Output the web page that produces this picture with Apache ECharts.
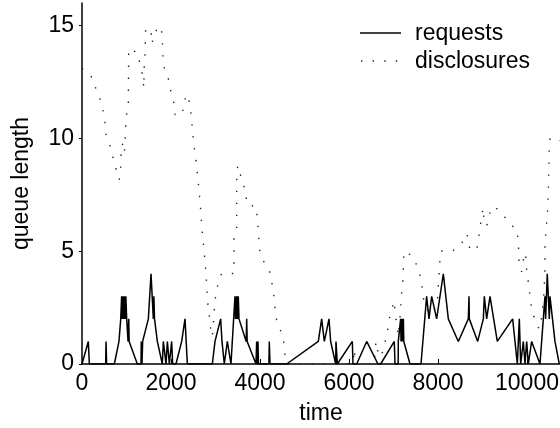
<!DOCTYPE html>
<html>
<head>
<meta charset="utf-8">
<script src="https://cdn.jsdelivr.net/npm/echarts@6/dist/echarts.min.js"></script>
<style>
html,body{margin:0;padding:0;background:#fff;}
#c{width:560px;height:428px;}
</style>
</head>
<body>
<div id="c"></div>
<script>
// ---- data ----
const reqTime = [0,142,165,532,540,554,727,831,870,891,905,915,935,950,970,985,1004,1035,1050,1060,1243,
  1326,1332,1348,1363,1491,1551,1603,1615,1630,1693,1805,1828,1888,1918,1963,2015,2037,2112,2240,2315,2367,
  2929,2989,3116,3146,3198,3266,3348,3438,3450,3462,3475,3488,3500,3512,3528,3690,3701,3712,3910,3925,3940,3955,3965,
  4200,4209,4225,4600,5311,5386,5446,5551,5588,5701,5708,5738,6075,6090,6173,6398,6650,6712,7018,7034,7105,7108,
  7161,7170,7190,7200,7222,7232,7371,7618,7745,7798,7858,7970,8120,8232,8457,8682,8697,8704,8892,9019,9041,9094,
  9169,9333,9678,9783,9828,9858,9918,9955,9993,10030,10105,10292,10367,10404,10419,10456,10502,10517,10629,10726];
const reqValue = [0,1,0,0,1,0,0,1,2,3,2,3,2,3,2,3,2,1,2,1,0,
  0,1,0,1,2,4,2,3,2,1,0,1,0,1,0,1,0,0,1,2,0,
  0,1,2,1,0,1,0,3,2,3,2,3,2,3,2,1,2,1,0,1,0,1,0,
  0,1,0,0,1,2,1,2,1,0,1,0,1,0,0,1,0,0,1,0,0,1,
  2,1,2,1,2,1,0,0,3,2,3,2,4,2,1,2,3,2,1,2,3,2,
  3,1,2,0,2,0,1,0,1,0,1,0,2,3,2,4,2,3,1,0];

const discTime = [0,196,292,398,465,517,517,607,667,742,802,838,870,876,906,928,951,966,982,985,1041,1049,
  1252,1303,1371,1387,1400,1416,1431,1551,1575,1596,1620,1775,1804,1812,1820,1865,1955,2000,2061,2090,2263,2276,
  2375,2427,2465,2479,2510,2539,2578,2600,2629,2652,2674,2690,2712,2742,2764,2787,2802,2816,2838,2876,2899,2928,
  2951,2966,2989,3027,3101,3139,3416,3416,3476,3476,3499,3625,3685,3701,3926,3933,3962,3978,4000,4112,4240,4276,
  4315,4337,4375,4472,4539,4562,4596,6090,6119,6150,6562,6607,6658,6697,6771,6825,6883,6921,7018,7034,7072,7108,
  7162,7169,7198,7220,7220,7243,7431,7544,7618,7656,7685,7820,7955,7993,8022,8061,8330,8510,8652,8697,8870,8906,
  8944,8982,9018,9034,9094,9146,9258,9445,9596,9782,9798,9820,9820,9881,9917,9971,9978,10016,10045,10083,10115,
  10270,10330,10382,10404,10404,10465,10475,10501,10517,10719,10742];
const discValue = [13.1,12.8,12.3,11.8,11.3,10.8,10.3,9.84,9.35,8.84,8.32,8.17,8.69,9.22,9.76,9.6,9.35,9.87,10.4,10.94,11.34,13.97,
  13.8,13.27,12.74,12.24,13.26,13.82,14.88,14.78,14.2,14.15,14.7,14.97,14.48,13.97,13.45,12.98,12.57,12.05,11.6,11.06,11.06,11.6,
  11.95,11.42,10.9,10.35,9.84,9.32,8.77,8.24,7.73,7.18,6.67,6.14,5.6,5.07,4.56,4.01,3.5,2.98,2.43,1.92,1.39,1.21,
  1.77,2.27,2.8,3.32,3.84,4.01,4.01,5.6,6.0,8.14,8.8,7.96,7.58,7.08,6.96,6.45,5.97,5.44,4.93,4.42,4.01,3.5,
  2.98,2.46,1.92,1.43,0.92,0.4,0,0,0.65,0,0,0.99,0.47,0.3,0.59,1.12,1.65,2.17,2.8,2.31,1.77,1.24,
  2.39,2.92,3.42,3.94,4.47,5.0,4.78,4.28,3.76,3.24,2.73,2.2,2.5,2.95,3.98,5.01,5.01,5.27,5.78,5.19,5.01,5.52,
  6.03,6.56,6.92,6.4,6.11,6.62,7.0,6.67,6.25,5.93,5.41,4.9,4.35,4.09,4.6,4.93,4.41,3.86,3.35,2.8,2.29,
  1.55,2.07,3.16,4.2,5.27,6.86,7.36,9.47,9.99,9.84,9.9];

const xTicks = [0,2000,4000,6000,8000,10000];
const yTicks = [0,5,10,15];
const seriesNames = ['requests','disclosures'];
const xName = 'time';
const yName = 'queue length';

// ---- chart ----
const pair = (t, v) => t.map((x, i) => [x, v[i]]);
const FONT = 'Liberation Sans, Arial, sans-serif';
const REQ_LINE = {color: '#000', width: 1.5};
const DISC_LINE = {color: '#222', width: 1.4, type: [1.4, 10.6], cap: 'butt'};
const chart = echarts.init(document.getElementById('c'), null, {renderer: 'canvas'});
chart.setOption({
  animation: false,
  backgroundColor: '#fff',
  textStyle: {fontFamily: FONT, color: '#000'},
  grid: {left: 82, top: 3, right: 0, bottom: 64, containLabel: false, outerBoundsMode: 'none'},
  graphic: [
    {type: 'line', shape: {x1: 360, y1: 33, x2: 401, y2: 33}, style: {stroke: '#000', lineWidth: 1.5}},
    {type: 'text', x: 415, y: 34, style: {text: seriesNames[0], fontFamily: FONT, fontSize: 23, fill: '#000', verticalAlign: 'middle', align: 'left'}},
    {type: 'line', shape: {x1: 361, y1: 61, x2: 401, y2: 61}, style: {stroke: '#222', lineWidth: 1.4, lineDash: [1.4, 10.2]}},
    {type: 'text', x: 415, y: 62, style: {text: seriesNames[1], fontFamily: FONT, fontSize: 23, fill: '#000', verticalAlign: 'middle', align: 'left'}}
  ],
  xAxis: {
    type: 'value', min: 0, max: 10742, interval: 2000,
    name: xName, nameLocation: 'middle', nameGap: 38,
    nameTextStyle: {fontFamily: FONT, fontSize: 23, color: '#000'},
    axisLine: {show: true, lineStyle: {color: '#000', width: 1.5}},
    axisTick: {show: true, inside: true, length: 5, lineStyle: {color: '#000'}},
    axisLabel: {fontFamily: FONT, fontSize: 23, color: '#000', margin: 8, showMaxLabel: false,
      formatter: v => xTicks.includes(v) ? String(v) : ''},
    splitLine: {show: false}
  },
  yAxis: {
    type: 'value', min: 0, max: 16, interval: 5,
    name: yName, nameLocation: 'middle', nameGap: 49,
    nameTextStyle: {fontFamily: FONT, fontSize: 23, color: '#000'},
    axisLine: {show: true, lineStyle: {color: '#000', width: 1.5}},
    axisTick: {show: true, inside: false, length: 3, lineStyle: {color: '#000'}},
    axisLabel: {fontFamily: FONT, fontSize: 23, color: '#000', margin: 8, showMaxLabel: false,
      formatter: v => yTicks.includes(v) ? String(v) : ''},
    splitLine: {show: false}
  },
  series: [
    {name: seriesNames[0], type: 'line', data: pair(reqTime, reqValue), symbol: 'none', showSymbol: false,
     lineStyle: REQ_LINE, itemStyle: {color: '#000'}, z: 3},
    {name: seriesNames[1], type: 'line', data: pair(discTime, discValue), symbol: 'none', showSymbol: false,
     lineStyle: DISC_LINE, itemStyle: {color: '#222'}, z: 2}
  ]
});
</script>
</body>
</html>
